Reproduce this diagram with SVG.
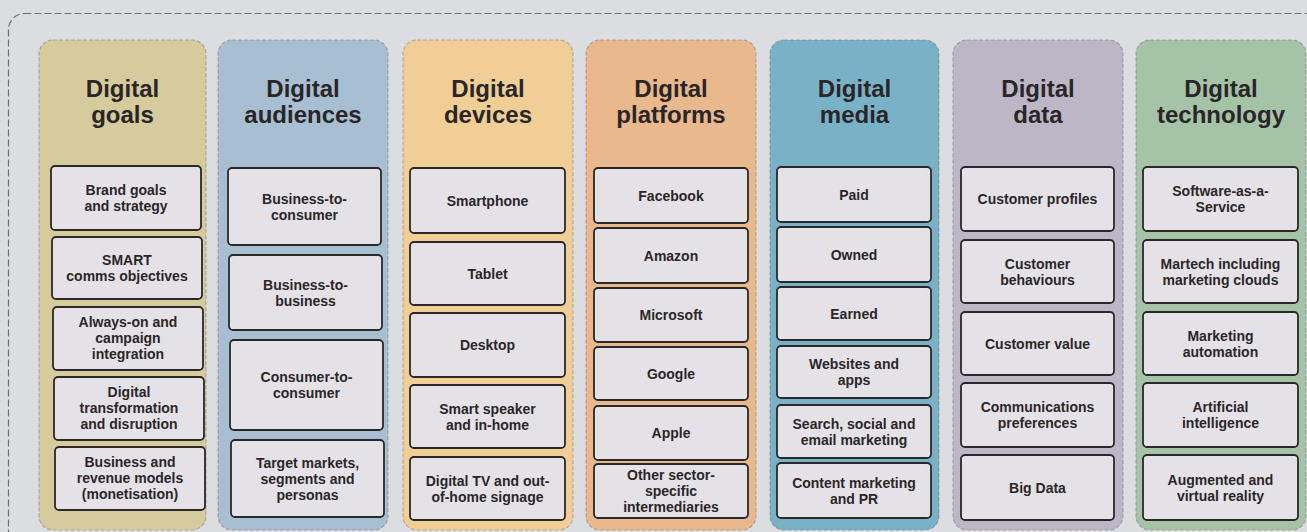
<svg xmlns="http://www.w3.org/2000/svg" width="1307" height="532" viewBox="0 0 1307 532">
<style>
.col{stroke:#6f6f72;stroke-opacity:0.45;stroke-width:1.2;stroke-dasharray:4 2}
.hd{font-family:"Liberation Sans",Arial,sans-serif;font-weight:bold;font-size:24px;fill:#2a2627;text-anchor:middle}
.bx{fill:#e4e2e7;stroke:#2b2829;stroke-width:1.8}
.tx{font-family:"Liberation Sans",Arial,sans-serif;font-weight:bold;font-size:14px;fill:#2b2628;text-anchor:middle}
</style>
<rect x="0" y="0" width="1307" height="532" fill="#dcdde1"/>
<rect x="8.5" y="13.5" width="1330" height="560" rx="16" fill="none" stroke="#6f6f72" stroke-width="1.2" stroke-dasharray="7 3"/>

<g id="col-goals">
<rect class="col" x="39" y="40" width="167" height="490" rx="14" fill="#d5cb9d"/>
<text class="hd" x="122.5" y="97">Digital</text><text class="hd" x="122.5" y="123">goals</text>
<rect class="bx" x="51" y="166" width="150" height="64" rx="4"/>
<text class="tx" x="126" y="195">Brand goals</text><text class="tx" x="126" y="211">and strategy</text>
<rect class="bx" x="52" y="237" width="150" height="62" rx="4"/>
<text class="tx" x="127" y="265">SMART</text><text class="tx" x="127" y="281">comms objectives</text>
<rect class="bx" x="53" y="307" width="150" height="63" rx="4"/>
<text class="tx" x="128" y="327">Always-on and</text><text class="tx" x="128" y="343">campaign</text><text class="tx" x="128" y="359">integration</text>
<rect class="bx" x="54" y="377" width="150" height="63" rx="4"/>
<text class="tx" x="129" y="397">Digital</text><text class="tx" x="129" y="413">transformation</text><text class="tx" x="129" y="429">and disruption</text>
<rect class="bx" x="55" y="447" width="150" height="63" rx="4"/>
<text class="tx" x="130" y="467">Business and</text><text class="tx" x="130" y="483">revenue models</text><text class="tx" x="130" y="499">(monetisation)</text>
</g>

<g id="col-audiences">
<rect class="col" x="218" y="40" width="170" height="490" rx="14" fill="#a8bfd2"/>
<text class="hd" x="303" y="97">Digital</text><text class="hd" x="303" y="123">audiences</text>
<rect class="bx" x="228" y="168" width="153" height="77" rx="4"/>
<text class="tx" x="304.5" y="203.5">Business-to-</text><text class="tx" x="304.5" y="219.5">consumer</text>
<rect class="bx" x="229" y="255" width="153" height="75" rx="4"/>
<text class="tx" x="305.5" y="289.5">Business-to-</text><text class="tx" x="305.5" y="305.5">business</text>
<rect class="bx" x="230" y="340" width="153" height="90" rx="4"/>
<text class="tx" x="306.5" y="382">Consumer-to-</text><text class="tx" x="306.5" y="398">consumer</text>
<rect class="bx" x="231" y="440" width="153" height="77" rx="4"/>
<text class="tx" x="307.5" y="467.5">Target markets,</text><text class="tx" x="307.5" y="483.5">segments and</text><text class="tx" x="307.5" y="499.5">personas</text>
</g>

<g id="col-devices">
<rect class="col" x="403" y="40" width="170" height="490" rx="14" fill="#f0ce96"/>
<text class="hd" x="488" y="97">Digital</text><text class="hd" x="488" y="123">devices</text>
<rect class="bx" x="410" y="168" width="155" height="65" rx="4"/>
<text class="tx" x="487.5" y="205.5">Smartphone</text>
<rect class="bx" x="410" y="242" width="155" height="63" rx="4"/>
<text class="tx" x="487.5" y="278.5">Tablet</text>
<rect class="bx" x="410" y="313" width="155" height="64" rx="4"/>
<text class="tx" x="487.5" y="350">Desktop</text>
<rect class="bx" x="410" y="385" width="155" height="63" rx="4"/>
<text class="tx" x="487.5" y="413.5">Smart speaker</text><text class="tx" x="487.5" y="429.5">and in-home</text>
<rect class="bx" x="410" y="457" width="155" height="63" rx="4"/>
<text class="tx" x="487.5" y="485.5">Digital TV and out-</text><text class="tx" x="487.5" y="501.5">of-home signage</text>
</g>

<g id="col-platforms">
<rect class="col" x="586" y="40" width="170" height="490" rx="14" fill="#e9b98d"/>
<text class="hd" x="671" y="97">Digital</text><text class="hd" x="671" y="123">platforms</text>
<rect class="bx" x="594" y="168" width="154" height="55" rx="4"/>
<text class="tx" x="671" y="200.5">Facebook</text>
<rect class="bx" x="594" y="228" width="154" height="55" rx="4"/>
<text class="tx" x="671" y="260.5">Amazon</text>
<rect class="bx" x="594" y="288" width="154" height="54" rx="4"/>
<text class="tx" x="671" y="320">Microsoft</text>
<rect class="bx" x="594" y="347" width="154" height="53" rx="4"/>
<text class="tx" x="671" y="378.5">Google</text>
<rect class="bx" x="594" y="406" width="154" height="54" rx="4"/>
<text class="tx" x="671" y="438">Apple</text>
<rect class="bx" x="594" y="464" width="154" height="54" rx="4"/>
<text class="tx" x="671" y="480">Other sector-</text><text class="tx" x="671" y="496">specific</text><text class="tx" x="671" y="512">intermediaries</text>
</g>

<g id="col-media">
<rect class="col" x="770" y="40" width="169" height="490" rx="14" fill="#79b1c7"/>
<text class="hd" x="854.5" y="97">Digital</text><text class="hd" x="854.5" y="123">media</text>
<rect class="bx" x="777" y="167" width="154" height="55" rx="4"/>
<text class="tx" x="854" y="199.5">Paid</text>
<rect class="bx" x="777" y="227" width="154" height="55" rx="4"/>
<text class="tx" x="854" y="259.5">Owned</text>
<rect class="bx" x="777" y="287" width="154" height="53" rx="4"/>
<text class="tx" x="854" y="318.5">Earned</text>
<rect class="bx" x="777" y="346" width="154" height="52" rx="4"/>
<text class="tx" x="854" y="369">Websites and</text><text class="tx" x="854" y="385">apps</text>
<rect class="bx" x="777" y="405" width="154" height="53" rx="4"/>
<text class="tx" x="854" y="428.5">Search, social and</text><text class="tx" x="854" y="444.5">email marketing</text>
<rect class="bx" x="777" y="463" width="154" height="55" rx="4"/>
<text class="tx" x="854" y="487.5">Content marketing</text><text class="tx" x="854" y="503.5">and PR</text>
</g>

<g id="col-data">
<rect class="col" x="953" y="40" width="170" height="490" rx="14" fill="#bcb6c7"/>
<text class="hd" x="1038" y="97">Digital</text><text class="hd" x="1038" y="123">data</text>
<rect class="bx" x="961" y="167" width="153" height="64" rx="4"/>
<text class="tx" x="1037.5" y="204">Customer profiles</text>
<rect class="bx" x="961" y="240" width="153" height="63" rx="4"/>
<text class="tx" x="1037.5" y="268.5">Customer</text><text class="tx" x="1037.5" y="284.5">behaviours</text>
<rect class="bx" x="961" y="312" width="153" height="63" rx="4"/>
<text class="tx" x="1037.5" y="348.5">Customer value</text>
<rect class="bx" x="961" y="383" width="153" height="64" rx="4"/>
<text class="tx" x="1037.5" y="412">Communications</text><text class="tx" x="1037.5" y="428">preferences</text>
<rect class="bx" x="961" y="455" width="153" height="65" rx="4"/>
<text class="tx" x="1037.5" y="492.5">Big Data</text>
</g>

<g id="col-technology">
<rect class="col" x="1136" y="40" width="170" height="490" rx="14" fill="#a4c3a7"/>
<text class="hd" x="1221" y="97">Digital</text><text class="hd" x="1221" y="123">technology</text>
<rect class="bx" x="1143" y="167" width="155" height="64" rx="4"/>
<text class="tx" x="1220.5" y="196">Software-as-a-</text><text class="tx" x="1220.5" y="212">Service</text>
<rect class="bx" x="1143" y="240" width="155" height="63" rx="4"/>
<text class="tx" x="1220.5" y="268.5">Martech including</text><text class="tx" x="1220.5" y="284.5">marketing clouds</text>
<rect class="bx" x="1143" y="312" width="155" height="63" rx="4"/>
<text class="tx" x="1220.5" y="340.5">Marketing</text><text class="tx" x="1220.5" y="356.5">automation</text>
<rect class="bx" x="1143" y="383" width="155" height="64" rx="4"/>
<text class="tx" x="1220.5" y="412">Artificial</text><text class="tx" x="1220.5" y="428">intelligence</text>
<rect class="bx" x="1143" y="455" width="155" height="65" rx="4"/>
<text class="tx" x="1220.5" y="484.5">Augmented and</text><text class="tx" x="1220.5" y="500.5">virtual reality</text>
</g>

<g id="connectors"></g>
</svg>
